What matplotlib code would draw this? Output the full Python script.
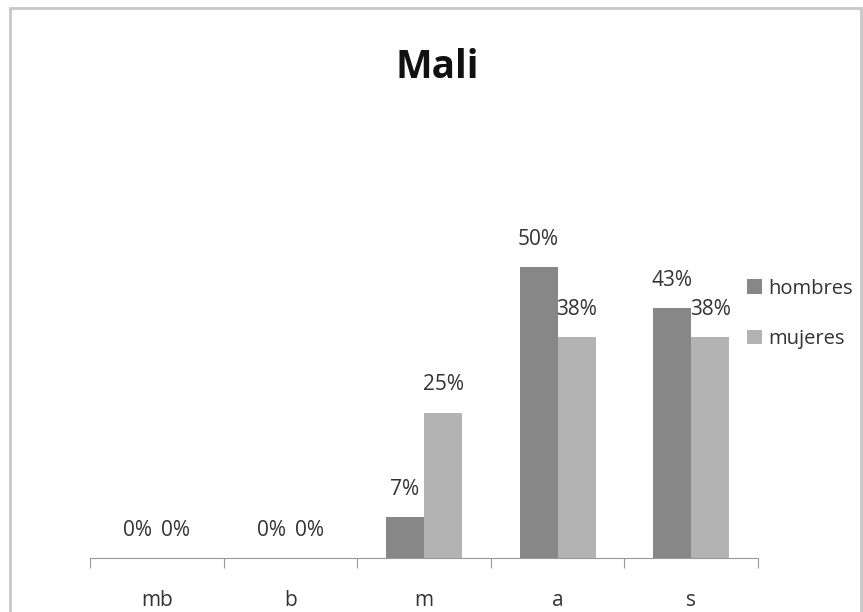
import matplotlib
matplotlib.use("Agg")
import matplotlib.pyplot as plt
from matplotlib.patches import Rectangle
from matplotlib import font_manager
import numpy as np

# data
categories = ["mb", "b", "m", "a", "s"]
hombres = [0, 0, 7, 50, 43]
mujeres = [0, 0, 25, 38, 38]
series_names = ["hombres", "mujeres"]
colors = ["#878787", "#b3b3b3"]

names = {f.name for f in font_manager.fontManager.ttflist}
font = "Liberation Sans Narrow" if "Liberation Sans Narrow" in names else "Open Sans"
plt.rcParams["font.family"] = [font, "DejaVu Sans"]

W, H = 863, 612
fig = plt.figure(figsize=(W / 100, H / 100), dpi=100)

# outer frame like the spreadsheet chart border
fig.patches.append(Rectangle((10 / W, -0.01), (861 - 10) / W, (H - 8) / H + 0.01,
                             transform=fig.transFigure, fill=False,
                             edgecolor="#c8c8c8", linewidth=2))

ax_left, ax_right = 90 / W, 758 / W
ax_bottom = (H - 558) / H
ax_height = 349 / H
ax = fig.add_axes([ax_left, ax_bottom, ax_right - ax_left, ax_height])

x = np.arange(len(categories))
width = 0.285
b1 = ax.bar(x - width / 2, np.array(hombres) / 100, width, color=colors[0],
            label=series_names[0])
b2 = ax.bar(x + width / 2, np.array(mujeres) / 100, width, color=colors[1],
            label=series_names[1])

for bars, vals in [(b1, hombres), (b2, mujeres)]:
    for rect, v in zip(bars, vals):
        ax.annotate(f"{v}%", (rect.get_x() + rect.get_width() / 2, rect.get_height()),
                    xytext=(0, 20), textcoords="offset points",
                    ha="center", va="center", fontsize=15, color="#333333")

ax.set_xlim(-0.5, len(categories) - 0.5)
ax.set_ylim(0, 0.6)
ax.set_yticks([])
for s in ["top", "right", "left"]:
    ax.spines[s].set_visible(False)
ax.spines["bottom"].set_color("#999999")
ax.set_xticks(np.arange(len(categories) + 1) - 0.5, minor=False)
ax.set_xticklabels([])
ax.tick_params(axis="x", direction="out", length=7, color="#999999")
for i, c in enumerate(categories):
    ax.text(i, -42 / 349 * 0.6, c, ha="center", va="center", fontsize=15,
            color="#333333")

fig.text(437 / W, 1 - 68 / H, "Mali", ha="center", va="center", fontsize=28,
         fontweight="bold", color="#111111")

ax.legend(loc="center left", bbox_to_anchor=(747 / W, 1 - 314 / H),
          bbox_transform=fig.transFigure, frameon=False, fontsize=14.5,
          handlelength=0.75, handleheight=0.75, handletextpad=0.3,
          labelspacing=1.5, labelcolor="#333333", borderpad=0,
          borderaxespad=0)

fig.savefig("out.png", dpi=100, facecolor="white")
